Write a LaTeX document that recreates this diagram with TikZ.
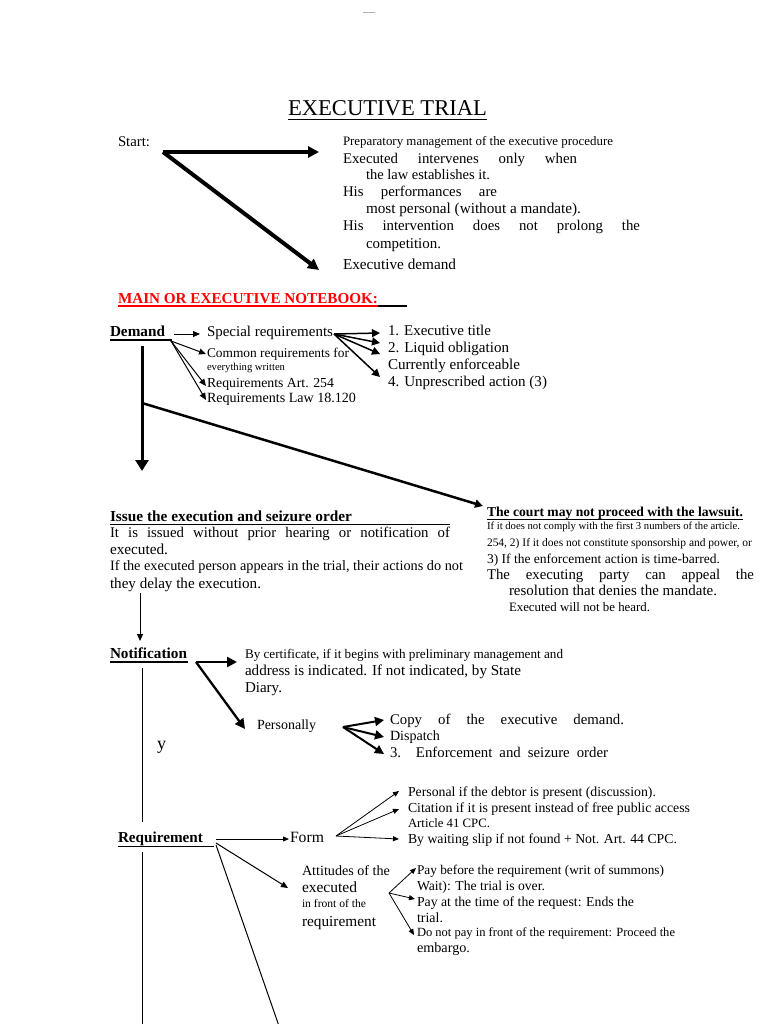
\documentclass[tikz,border=0pt]{standalone}
\usepackage{fontspec}
\setmainfont{Liberation Serif}
\usepackage{graphicx}
\usetikzlibrary{arrows.meta}
\definecolor{redhd}{RGB}{255,0,0}
\newcommand\fitto[2]{\resizebox{#1pt}{!}{#2}}
\newcommand\justto[2]{\makebox[#1pt][s]{#2}}
\begin{document}
\begin{tikzpicture}[x=1pt,y=-1pt,
 txt/.style={anchor=base west,inner sep=0pt,outer sep=0pt,font=\fontsize{14}{16}\selectfont},
 jt/.style={txt,font=\fontsize{14.8}{17}\selectfont},
 bx/.style={txt,font=\fontsize{14}{16}\selectfont\bfseries},
 ul/.style={line width=1pt},
 a4/.style={line width=4pt,-{Triangle[length=11pt,width=11pt]}},
 a3/.style={line width=3pt,-{Triangle[length=11pt,width=13pt]}},
 a2/.style={line width=2.3pt,-{Triangle[length=10pt,width=10pt]}},
 a15/.style={line width=1.5pt,-{Triangle[length=8pt,width=8pt]}},
 a1/.style={line width=1pt,-{Triangle[length=7pt,width=6pt]}},
 a08/.style={line width=0.8pt,-{Triangle[length=6pt,width=5pt]}},
 plain/.style={line width=1pt},
]
\useasboundingbox (0,0) rectangle (768,1024);
\fill[white] (0,0) rectangle (768,1024);
\draw[gray!60,line width=0.8pt] (363,12) -- (375,12);

% title
\node[txt] (title) at (288,116) {\fitto{199}{EXECUTIVE TRIAL}};
\draw[ul] (288,120) -- (487,120);

% start block
\node[txt] (start) at (118,147) {\fitto{32}{Start:}};
\node[txt] (prep) at (343,146) {\fitto{270}{Preparatory management of the executive procedure}};
\node[jt] (ex1) at (343,164) {\justto{234}{Executed intervenes only when}};
\node[txt] (ex2) at (366,180) {\fitto{124}{the law establishes it.}};
\node[jt] (hp1) at (343,197) {\justto{154}{His performances are}};
\node[txt] (hp2) at (366,214) {\fitto{215}{most personal (without a mandate).}};
\node[jt] (hi1) at (343,231) {\justto{297}{His intervention does not prolong the}};
\node[txt] (hi2) at (366,248) {\fitto{75}{competition.}};
\node[txt] (exd) at (343,269) {\fitto{113}{Executive demand}};
\coordinate (s0) at (163,152);
\coordinate (s1) at (319,152);
\coordinate (s2) at (319,270);
\draw[a4] (s0) -- (s1);
\draw[a4] (s0) -- (s2);

% main notebook
\node[bx,text=redhd] (main) at (118,303) {\fitto{260}{MAIN OR EXECUTIVE NOTEBOOK:}};
\draw[redhd,line width=1.3pt] (118,306) -- (378,306);
\draw[line width=1.3pt] (378,306) -- (407,306);

% demand
\node[bx] (demand) at (110,336) {\fitto{55}{Demand}};
\draw[line width=1.3pt] (110,340) -- (172,340);
\node[txt] (special) at (207,336) {\fitto{126}{Special requirements}};
\node[txt] (common) at (207,357) {\fitto{142}{Common requirements for}};
\node[txt] (everyw) at (207,370) {\fitto{78}{everything written}};
\node[txt] (art254) at (207,387) {\fitto{127}{Requirements Art. 254}};
\node[txt] (law) at (207,402) {\fitto{149}{Requirements Law 18.120}};
\node[txt] (it1) at (388,335) {\fitto{103}{1. Executive title}};
\node[txt] (it2) at (388,352) {\fitto{121}{2. Liquid obligation}};
\node[txt] (it3) at (388,369) {\fitto{132}{Currently enforceable}};
\node[txt] (it4) at (388,386) {\fitto{159}{4. Unprescribed action (3)}};
\coordinate (d0) at (174,334);
\coordinate (d0e) at (200,334);
\draw[a1] (d0) -- (d0e);
\coordinate (d1) at (171,341);
\coordinate (dc) at (206,354);
\coordinate (dr1) at (206,386);
\coordinate (dr2) at (206,400);
\draw[a1] (d1) -- (dc);
\draw[a1] (d1) -- (dr1);
\draw[a1] (d1) -- (dr2);
\coordinate (sp) at (334,334);
\coordinate (e1) at (380,333);
\coordinate (e2) at (380,343);
\coordinate (e3) at (380,354);
\coordinate (e4) at (380,377);
\draw[a15] (sp) -- (e1);
\draw[a15] (sp) -- (e2);
\draw[a15] (sp) -- (e3);
\draw[a15] (sp) -- (e4);

\coordinate (v0) at (142,346);
\coordinate (v1) at (142,471);
\draw[a3] (v0) -- (v1);
\coordinate (g0) at (142,403);
\coordinate (g1) at (483,506);
\draw[line width=2.5pt,-{Triangle[length=8pt,width=8pt]}] (g0) -- (g1);

% issue
\node[bx] (issue) at (110,521) {\fitto{242}{Issue the execution and seizure order}};
\draw[plain] (110,524) -- (450,524);
\node[jt] (is1) at (110,537) {\justto{340}{It is issued without prior hearing or notification of}};
\node[txt] (is2) at (110,554) {\fitto{58}{executed.}};
\node[txt] (is3) at (110,570) {\fitto{353}{If the executed person appears in the trial, their actions do not}};
\node[txt] (is4) at (110,588) {\fitto{151}{they delay the execution.}};

% court
\node[bx] (court) at (487,516) {\fitto{256}{The court may not proceed with the lawsuit.}};
\draw[plain] (487,519.5) -- (743,519.5);
\node[txt] (c1) at (487,529) {\fitto{253}{If it does not comply with the first 3 numbers of the article.}};
\node[txt] (c2) at (487,546) {\fitto{265}{254, 2) If it does not constitute sponsorship and power, or}};
\node[txt] (c3) at (487,563) {\fitto{233}{3) If the enforcement action is time-barred.}};
\node[jt] (c4) at (487,579) {\justto{267}{The executing party can appeal the}};
\node[txt] (c5) at (509,595) {\fitto{208}{resolution that denies the mandate.}};
\node[txt] (c6) at (509,611) {\fitto{141}{Executed will not be heard.}};

% notification
\coordinate (n0) at (140,593);
\coordinate (n1) at (140,641);
\draw[a1] (n0) -- (n1);
\node[bx] (notif) at (110,658) {\fitto{77}{Notification}};
\draw[line width=1.3pt] (110,662) -- (188,662);
\node[txt] (cert1) at (245,658) {\fitto{318}{By certificate, if it begins with preliminary management and}};
\node[txt] (cert2) at (245,675) {\fitto{276}{address is indicated. If not indicated, by State}};
\node[txt] (cert3) at (245,692) {\fitto{37}{Diary.}};
\node[txt] (pers) at (257,729) {\fitto{59}{Personally}};
\node[jt] (p1) at (390,724) {\justto{234}{Copy of the executive demand.}};
\node[txt] (p2) at (390,740) {\fitto{50}{Dispatch}};
\node[jt] (p3) at (390,757) {\justto{218}{3. Enforcement and seizure order}};
\node[txt] (yy) at (157,749) {\fitto{9}{y}};
\coordinate (nf0) at (196,662);
\coordinate (nf1) at (237,662);
\coordinate (nf2) at (245,729);
\draw[a2] (nf0) -- (nf1);
\draw[a2] (nf0) -- (nf2);
\coordinate (pp0) at (343,727);
\coordinate (pp1) at (384,720);
\coordinate (pp2) at (384,737);
\coordinate (pp3) at (384,754);
\draw[line width=2pt,-{Triangle[length=9pt,width=9pt]}] (pp0) -- (pp1);
\draw[line width=2pt,-{Triangle[length=9pt,width=9pt]}] (pp0) -- (pp2);
\draw[line width=2pt,-{Triangle[length=9pt,width=9pt]}] (pp0) -- (pp3);
\coordinate (l0) at (142,668);
\coordinate (l1) at (142,822);
\draw[plain] (l0) -- (l1);

% requirement
\node[bx] (req) at (118,842) {\fitto{85}{Requirement}};
\draw[plain] (118,846) -- (214,846);
\node[txt] (form) at (290,842) {\fitto{34}{Form}};
\node[txt] (f1) at (408,796) {\fitto{248}{Personal if the debtor is present (discussion).}};
\node[txt] (f2) at (408,812) {\fitto{282}{Citation if it is present instead of free public access}};
\node[txt] (f3) at (408,827) {\fitto{82}{Article 41 CPC.}};
\node[txt] (f4) at (408,843) {\fitto{269}{By waiting slip if not found + Not. Art. 44 CPC.}};
\coordinate (l2) at (142,852);
\coordinate (l3) at (142,1024);
\draw[plain] (l2) -- (l3);
\coordinate (r0) at (216,839);
\coordinate (r1) at (289,839);
\draw[a08] (r0) -- (r1);
\coordinate (fm0) at (336,836);
\coordinate (fm1) at (399,791);
\coordinate (fm2) at (399,809);
\coordinate (fm3) at (399,839);
\draw[a08] (fm0) -- (fm1);
\draw[a08] (fm0) -- (fm2);
\draw[a08] (fm0) -- (fm3);
\coordinate (r2) at (216,843);
\coordinate (r3) at (288,888);
\draw[a1] (r2) -- (r3);
\coordinate (r4) at (216,845);
\coordinate (r5) at (279,1026);
\draw[plain] (r4) -- (r5);

% attitudes
\node[txt] (at1) at (302,875) {\fitto{88}{Attitudes of the}};
\node[txt] (at2) at (302,892) {\fitto{55}{executed}};
\node[txt] (at3) at (302,907) {\fitto{64}{in front of the}};
\node[txt] (at4) at (302,926) {\fitto{74}{requirement}};
\node[txt] (w1) at (417,874) {\fitto{247}{Pay before the requirement (writ of summons)}};
\node[txt] (w2) at (417,890) {\fitto{128}{Wait): The trial is over.}};
\node[txt] (w3) at (417,906) {\fitto{217}{Pay at the time of the request: Ends the}};
\node[txt] (w4) at (417,922) {\fitto{26}{trial.}};
\node[txt] (w5) at (417,936) {\fitto{258}{Do not pay in front of the requirement: Proceed the}};
\node[txt] (w6) at (417,952) {\fitto{53}{embargo.}};
\coordinate (ta0) at (389,893);
\coordinate (ta1) at (416,868);
\coordinate (ta2) at (415,899);
\coordinate (ta3) at (414,935);
\draw[a08] (ta0) -- (ta1);
\draw[a08] (ta0) -- (ta2);
\draw[a08] (ta0) -- (ta3);
\end{tikzpicture}
\end{document}
